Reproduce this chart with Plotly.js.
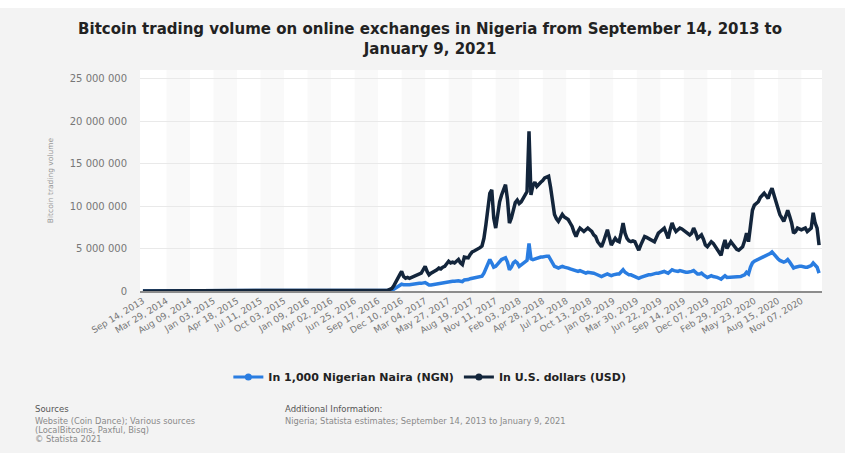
<!DOCTYPE html>
<html>
<head>
<meta charset="utf-8">
<script src="https://cdn.plot.ly/plotly-3.0.1.min.js"></script>
<style>
  html, body { margin: 0; padding: 0; background: #ffffff; }
  #chart { position: absolute; left: 0; top: 8px; width: 845px; height: 445px; }
</style>
</head>
<body>
<div id="chart"></div>
<script>
// Tick labels (one every 12 weekly categories)
const tickLabels = ["Sep 14, 2013","Mar 29, 2014","Aug 09, 2014","Jan 03, 2015","Apr 18, 2015","Jul 11, 2015","Oct 03, 2015","Jan 09, 2016","Apr 02, 2016","Jun 25, 2016","Sep 17, 2016","Dec 10, 2016","Mar 04, 2017","May 27, 2017","Aug 19, 2017","Nov 11, 2017","Feb 03, 2018","Apr 28, 2018","Jul 21, 2018","Oct 13, 2018","Jan 05, 2019","Mar 30, 2019","Jun 22, 2019","Sep 14, 2019","Dec 07, 2019","Feb 29, 2020","May 23, 2020","Aug 15, 2020","Nov 07, 2020"];

// Series names
const seriesNames = ["In 1,000 Nigerian Naira (NGN)", "In U.S. dollars (USD)"];

// Weekly trading volume, in millions (USD)
const usdMillions = [
0,0,0,0,0,0,0,0,0,0,0,0,0,0,0,0,0,0,0,0,
0,0,0,0,0,0,0,0,0,0,0,0,0,0,0,0,0,0,0,0,
0,0,0,0,0,0,0,0,0,0,0,0,0,0,0,0,0,0,0,0,
0,0,0,0,0,0,0,0,0,0,0,0,0,0,0,0,0,0,0,0,
0,0,0,0,0,0,0,0,0,0,0,0,0,0,0,0,0,0,0,0,
0,0,0,0,0,0,0,0,0,0,0,0,0,0,0,0,0,0,0,0,
0,0,0,0,
0.1,0.1,0.2,0.3,0.6,1.1,1.5,1.9,2.3,1.7,
1.5,1.6,1.5,1.6,1.7,1.8,1.9,2.0,2.1,2.5,
2.9,2.3,1.9,2.1,2.2,2.3,2.5,2.7,2.6,2.8,
2.9,3.2,3.5,3.3,3.4,3.3,3.5,3.7,3.3,3.1,
4.0,3.9,3.9,4.3,4.6,4.7,4.8,4.9,5.1,5.3,
6.2,7.8,10.1,11.5,11.9,8.6,7.4,9.0,10.5,11.3,
12.0,12.5,10.8,8.0,8.6,9.75,10.4,10.7,10.3,10.5,
10.9,11.3,11.7,18.8,11.3,12.4,12.8,12.3,12.6,12.8,
13.0,13.3,13.4,13.5,12.2,10.2,9.0,8.5,8.2,8.6,
9.0,8.7,8.6,8.4,8.0,7.6,6.9,6.4,7.0,7.4,
7.2,7.0,7.2,7.4,7.2,7.0,6.6,6.4,5.8,5.4,
5.2,5.8,6.6,7.2,6.3,5.4,5.8,6.2,5.9,5.8,
6.8,8.0,6.8,6.2,5.9,5.8,5.9,5.8,5.3,4.8,
5.4,5.9,6.4,6.3,6.2,6.0,5.9,5.8,6.3,6.8,
7.0,7.2,7.4,6.8,6.2,7.2,8.0,7.4,7.0,7.2,
7.4,7.3,7.1,7.0,6.8,6.6,6.8,7.4,6.9,6.2,
6.4,6.6,6.1,5.4,5.2,5.5,5.8,5.6,5.2,4.9,
4.6,4.2,5.2,6.0,5.0,5.4,5.8,5.5,5.2,4.9,
4.8,5.0,5.2,5.9,6.8,5.8,8.0,9.5,10.1,10.3,
10.5,11.0,11.3,11.5,11.2,10.9,11.6,12.1,11.3,10.4,
9.75,9.0,8.6,8.2,8.8,9.5,8.8,8.0,6.8,7.0,
7.4,7.3,7.2,7.3,7.4,7.0,7.2,7.4,9.2,8.0,
7.4,5.4
];

// Weekly trading volume, in millions (thousand NGN)
const ngnMillions = [
0,0,0,0,0,0,0,0,0,0,0,0,0,0,0,0,0,0,0,0,
0,0,0,0,0,0,0,0,0,0,0,0,0,0,0,0,0,0,0,0,
0,0,0,0,0,0,0,0,0,0,0,0,0,0,0,0,0,0,0,0,
0,0,0,0,0,0,0,0,0,0,0,0,0,0,0,0,0,0,0,0,
0,0,0,0,0,0,0,0,0,0,0,0,0,0,0,0,0,0,0,0,
0,0,0,0,0,0,0,0,0,0,0,0,0,0,0,0,0,0,0,0,
0,0,0,0,
0.05,0.05,0.1,0.1,0.2,0.35,0.5,0.6,0.8,0.75,
0.7,0.75,0.75,0.8,0.8,0.85,0.9,0.9,0.9,0.95,
1.0,0.85,0.7,0.7,0.75,0.8,0.85,0.9,0.9,0.95,
1.0,1.05,1.1,1.1,1.15,1.15,1.2,1.2,1.15,1.1,
1.3,1.3,1.35,1.45,1.5,1.55,1.6,1.65,1.7,1.75,
2.1,2.6,3.3,3.7,3.3,2.8,2.9,3.2,3.5,3.7,
3.8,3.9,3.4,2.5,2.8,3.3,3.5,3.3,2.9,3.1,
3.3,3.5,3.6,5.6,3.8,3.7,3.8,3.9,3.9,4.0,
4.0,4.1,4.1,4.1,3.7,3.1,2.9,2.8,2.7,2.8,
2.9,2.8,2.8,2.7,2.6,2.5,2.4,2.3,2.3,2.4,
2.3,2.2,2.1,2.2,2.2,2.1,2.1,2.0,1.9,1.8,
1.7,1.8,1.9,2.0,1.9,1.8,1.9,2.0,2.0,2.0,
2.2,2.5,2.2,2.0,1.9,1.9,1.8,1.7,1.6,1.5,
1.6,1.7,1.8,1.9,1.9,1.9,2.0,2.0,2.1,2.1,
2.2,2.3,2.3,2.2,2.1,2.3,2.5,2.4,2.3,2.3,
2.4,2.3,2.3,2.2,2.2,2.2,2.3,2.4,2.2,2.0,
2.0,2.1,1.9,1.7,1.6,1.7,1.8,1.7,1.7,1.6,
1.5,1.4,1.6,1.8,1.6,1.6,1.7,1.7,1.6,1.6,
1.6,1.7,1.8,1.9,2.2,2.0,2.8,3.3,3.5,3.6,
3.7,3.9,4.0,4.1,4.1,4.2,4.4,4.6,4.3,4.0,
3.8,3.6,3.5,3.4,3.5,3.7,3.4,3.1,2.7,2.8,
2.9,2.9,2.9,2.8,2.8,2.8,2.9,3.0,3.3,3.0,
2.8,2.1
];

const yTickValues = [0, 5000000, 10000000, 15000000, 20000000, 25000000];

const NGN_COLOR = "#2a7de1";
const USD_COLOR = "#13253b";
const TICK_STEP = 12;

const toUnits = arr => arr.map(v => v * 1e6);

const traces = [
  { y: toUnits(ngnMillions), type: "scatter", mode: "lines", name: seriesNames[0],
    line: { color: NGN_COLOR, width: 3.5 }, showlegend: false, hoverinfo: "skip" },
  { y: toUnits(usdMillions), type: "scatter", mode: "lines", name: seriesNames[1],
    line: { color: USD_COLOR, width: 3.5 }, showlegend: false, hoverinfo: "skip" },
  // legend entries
  { x: [null], y: [null], type: "scatter", mode: "lines+markers", name: "<b>" + seriesNames[0] + "</b>",
    line: { color: NGN_COLOR, width: 3 }, marker: { color: NGN_COLOR, size: 7 } },
  { x: [null], y: [null], type: "scatter", mode: "lines+markers", name: "<b>" + seriesNames[1] + "</b>",
    line: { color: USD_COLOR, width: 3 }, marker: { color: USD_COLOR, size: 7 } }
];

const tickVals = tickLabels.map((_, k) => k * TICK_STEP);

// alternating column bands between labelled ticks
const shapes = [];
for (let k = 1; k < tickLabels.length; k += 2) {
  shapes.push({ type: "rect", xref: "x", yref: "paper", x0: tickVals[k], x1: k + 1 < tickLabels.length ? tickVals[k + 1] : tickVals[k] + TICK_STEP,
    y0: 0, y1: 1, fillcolor: "#f9f9f9", line: { width: 0 }, layer: "below" });
}

const greyText = "#8a8a8a";
const annotations = [
  { text: "Sources", x: -0.157, y: -0.534, font: { size: 8.5, color: "#555" } },
  { text: "Website (Coin Dance); Various sources", x: -0.157, y: -0.588, font: { size: 8.3, color: greyText } },
  { text: "(LocalBitcoins, Paxful, Bisq)", x: -0.157, y: -0.629, font: { size: 8.3, color: greyText } },
  { text: "© Statista 2021", x: -0.157, y: -0.670, font: { size: 8.3, color: greyText } },
  { text: "Additional Information:", x: 0.2097, y: -0.534, font: { size: 8.5, color: "#555" } },
  { text: "Nigeria; Statista estimates; September 14, 2013 to January 9, 2021", x: 0.2097, y: -0.588, font: { size: 8.3, color: greyText } }
].map(a => Object.assign({ xref: "paper", yref: "paper", xanchor: "left", yanchor: "middle", showarrow: false }, a,
  { font: Object.assign({ family: "DejaVu Sans, sans-serif" }, a.font) }));

const layout = {
  width: 845, height: 445,
  margin: { l: 140, r: 23, t: 62, b: 162 },
  paper_bgcolor: "#f3f3f3",
  plot_bgcolor: "#ffffff",
  separators: ". ",
  font: { family: "DejaVu Sans, sans-serif", color: "#666" },
  title: {
    text: "<b>Bitcoin trading volume on online exchanges in Nigeria from September 14, 2013 to<br>January 9, 2021</b>",
    font: { family: "DejaVu Sans, sans-serif", size: 15, color: "#222" },
    x: 0.509, xanchor: "center", xref: "container",
    y: 0.941, yanchor: "top", yref: "container"
  },
  xaxis: {
    range: [-1.5, 346.5],
    tickmode: "array", tickvals: tickVals, ticktext: tickLabels,
    tickangle: -31, tickfont: { size: 9, color: "#777" },
    showgrid: false, zeroline: false,
    showline: true, linecolor: "#8c8c8c", linewidth: 1.5,
    ticks: "", fixedrange: true
  },
  yaxis: {
    range: [0, 26000000],
    tickmode: "array", tickvals: yTickValues,
    tickformat: ",d",
    tickfont: { size: 10, color: "#777" },
    gridcolor: "#e9e9e9", gridwidth: 1,
    zeroline: false, showline: false, ticks: "",
    ticklabelstandoff: 12,
    title: { text: "Bitcoin trading volume", font: { size: 7.5, color: "#999" }, standoff: 15 },
    fixedrange: true
  },
  legend: {
    orientation: "h", x: 0.425, xanchor: "center", y: -0.389, yanchor: "middle",
    font: { size: 11, color: "#222" }, bgcolor: "rgba(0,0,0,0)", itemwidth: 30
  },
  shapes: shapes,
  annotations: annotations,
  showlegend: true
};

Plotly.newPlot("chart", traces, layout, { staticPlot: true, displayModeBar: false });
</script>
</body>
</html>
